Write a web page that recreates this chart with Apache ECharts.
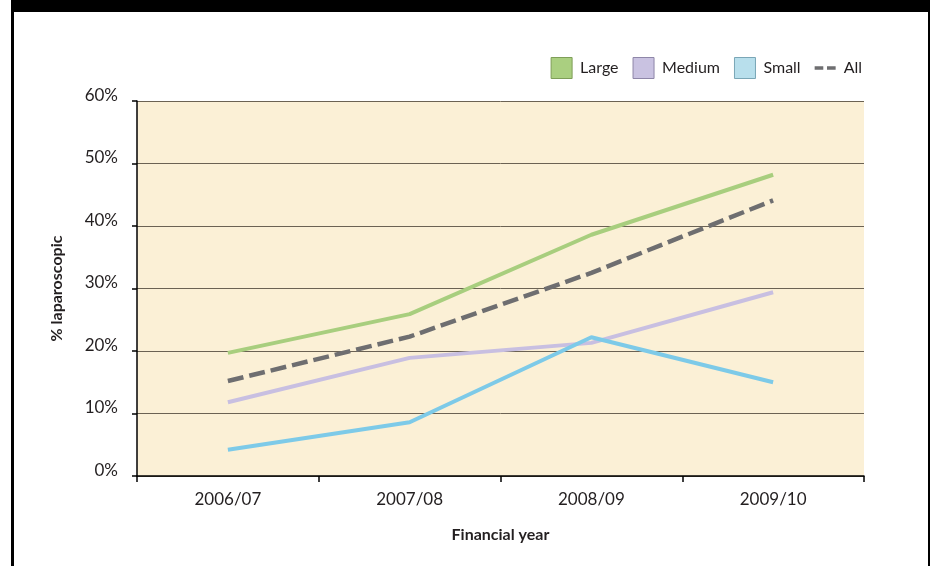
<!DOCTYPE html>
<html>
<head>
<meta charset="utf-8">
<script src="https://cdn.jsdelivr.net/npm/echarts@6/dist/echarts.min.js"></script>
<style>
html,body{margin:0;padding:0;background:#fff;}
#c{width:933px;height:566px;}
</style>
</head>
<body>
<div id="c"></div>
<script>
const categories = ['2006/07', '2007/08', '2008/09', '2009/10'];
const large = [19.7, 25.9, 38.6, 48.2];
const medium = [11.8, 18.9, 21.3, 29.4];
const small = [4.2, 8.6, 22.2, 15.0];
const all = [15.2, 22.3, 32.5, 44.1];
const yTicks = [0, 10, 20, 30, 40, 50, 60];

const FONT = 'Lato';
const TXT = '#231f20';

const chart = echarts.init(document.getElementById('c'), null, {renderer: 'canvas'});
chart.setOption({
  animation: false,
  backgroundColor: '#ffffff',
  textStyle: {fontFamily: FONT, color: TXT},
  graphic: [
    {type: 'rect', shape: {x: 11, y: 0, width: 919, height: 12}, style: {fill: '#000'}, z: 100},
    {type: 'rect', shape: {x: 11, y: 0, width: 3, height: 566}, style: {fill: '#000'}, z: 100},
    {type: 'rect', shape: {x: 928, y: 0, width: 2, height: 566}, style: {fill: '#000'}, z: 100}
  ],
  legend: {
    right: 66,
    top: 52,
    itemWidth: 21,
    itemHeight: 21,
    itemGap: 14,
    textStyle: {fontFamily: FONT, fontSize: 16, color: TXT, padding: [2, 0, 0, 3]},
    data: [
      {name: 'Large', icon: 'rect', itemStyle: {color: '#AACF80', borderColor: '#7e9e58', borderWidth: 1}},
      {name: 'Medium', icon: 'rect', itemStyle: {color: '#C9C2E1', borderColor: '#8e86a8', borderWidth: 1}},
      {name: 'Small', icon: 'rect', itemStyle: {color: '#B8DFEC', borderColor: '#7aa6b6', borderWidth: 1}},
      {name: 'All', icon: 'path://M0,0h7v3h-7z M10,0h7v3h-7z', itemStyle: {color: '#6E6E70', borderWidth: 0}}
    ]
  },
  grid: {left: 137, right: 69, top: 101, bottom: 90, show: true, backgroundColor: '#FBF0D6', borderWidth: 0},
  xAxis: {
    type: 'category',
    data: categories,
    boundaryGap: true,
    name: 'Financial year',
    nameLocation: 'middle',
    nameGap: 51,
    nameTextStyle: {fontFamily: FONT, fontSize: 16, fontWeight: 'bold', color: TXT},
    axisLine: {lineStyle: {color: '#000', width: 1.5}},
    axisTick: {show: true, length: 6, lineStyle: {color: '#000', width: 1.5}},
    axisLabel: {fontFamily: FONT, fontSize: 17, color: TXT, margin: 15}
  },
  yAxis: {
    type: 'value',
    min: 0,
    max: 60,
    interval: 10,
    name: '% laparoscopic',
    nameLocation: 'middle',
    nameGap: 72,
    nameRotate: 90,
    nameTextStyle: {fontFamily: FONT, fontSize: 16, fontWeight: 'bold', color: TXT},
    axisLine: {show: true, lineStyle: {color: '#000', width: 1.5}},
    axisTick: {show: true, length: 5, lineStyle: {color: '#000', width: 1.5}},
    axisLabel: {
      fontFamily: FONT, fontSize: 17, color: TXT, margin: 19,
      verticalAlign: 'bottom', lineHeight: 11,
      formatter: function (v) { return yTicks.indexOf(v) >= 0 ? v + '%' : ''; }
    },
    splitLine: {show: true, lineStyle: {color: '#6b6253', width: 1}}
  },
  series: [
    {name: 'Large', type: 'line', data: large, symbol: 'none', lineStyle: {color: '#A8CE7E', width: 4}, itemStyle: {color: '#A8CE7E'}, z: 3},
    {name: 'Medium', type: 'line', data: medium, symbol: 'none', lineStyle: {color: '#C8BFE1', width: 4}, itemStyle: {color: '#C8BFE1'}, z: 2},
    {name: 'Small', type: 'line', data: small, symbol: 'none', lineStyle: {color: '#7DCAE8', width: 4}, itemStyle: {color: '#7DCAE8'}, z: 4},
    {name: 'All', type: 'line', data: all, symbol: 'none', lineStyle: {color: '#6E6E70', width: 4.5, type: [16, 6]}, itemStyle: {color: '#6E6E70'}, z: 5}
  ]
});
</script>
</body>
</html>
